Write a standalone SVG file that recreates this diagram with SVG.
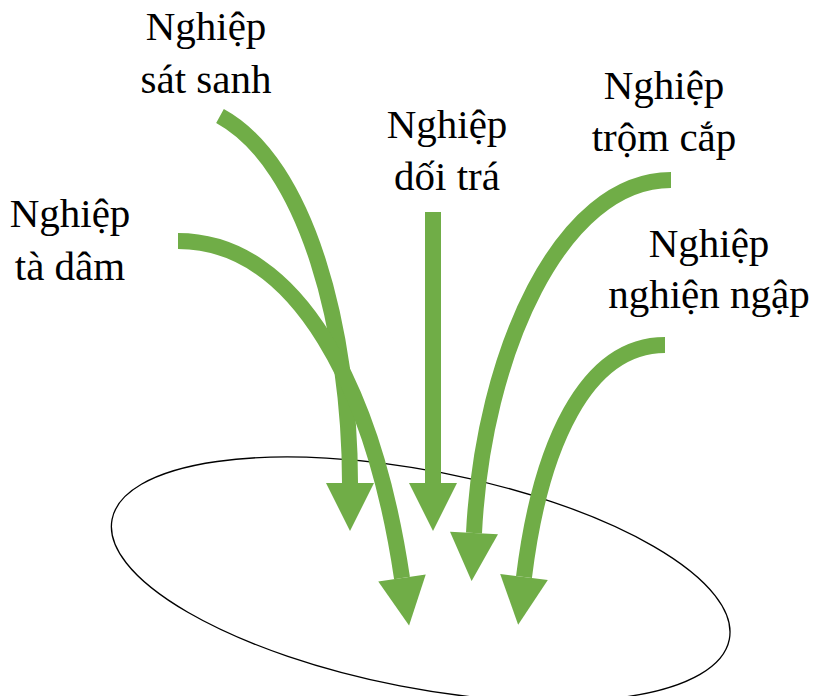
<svg xmlns="http://www.w3.org/2000/svg" width="816" height="696" viewBox="0 0 816 696">
<style>
.lbl{font-size:41px;fill:#000;text-anchor:middle}
.s1{font-family:"Liberation Serif",serif}
.arr{fill:none;stroke:#70AD47;stroke-width:16;stroke-linecap:butt;marker-end:url(#ah)}
</style>
<defs>
<marker id="ah" markerWidth="3" markerHeight="3" refX="0" refY="1.5" orient="auto" markerUnits="strokeWidth" overflow="visible">
<path d="M0,0 L3,1.5 L0,3 z" fill="#70AD47"/>
</marker>
</defs>
<rect width="816" height="696" fill="#fff"/>
<g id="ellipse">
<ellipse cx="420.7" cy="579.3" rx="314.4" ry="108.6" transform="rotate(11 420.7 579.3)" fill="none" stroke="#000" stroke-width="1.3"/>
</g>
<g id="connectors">
<path class="arr" d="M220,116 C308,164 350,333 350,483"/>
<path class="arr" d="M178,241 C298,241 374,390 402,578"/>
<path class="arr" d="M433,212 L433,483"/>
<path class="arr" d="M671,180 C561,180 483,353 474,533"/>
<path class="arr" d="M665,345 C585,345 540,447 524,577"/>
</g>
<g id="sat-sanh"><text class="lbl s1" x="206" y="40">Nghiệp</text><text class="lbl s1" x="206" y="93">sát sanh</text></g>
<g id="ta-dam"><text class="lbl s1" x="70" y="227">Nghiệp</text><text class="lbl s1" x="70" y="280">tà dâm</text></g>
<g id="doi-tra"><text class="lbl s1" x="447" y="138">Nghiệp</text><text class="lbl s1" x="447" y="190">dối trá</text></g>
<g id="trom-cap"><text class="lbl s1" x="664" y="99">Nghiệp</text><text class="lbl s1" x="664" y="151">trộm cắp</text></g>
<g id="nghien-ngap"><text class="lbl s1" x="709" y="257">Nghiệp</text><text class="lbl s1" x="709" y="308">nghiện ngập</text></g>
</svg>
